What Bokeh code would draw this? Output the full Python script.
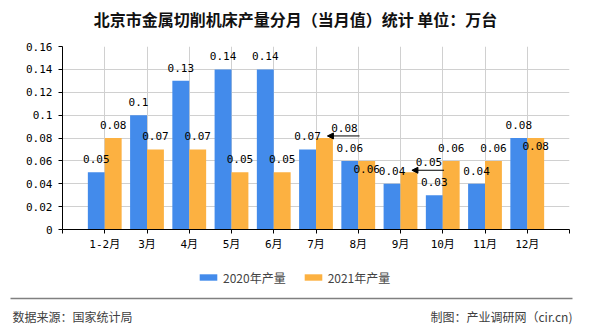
from bokeh.plotting import figure
from bokeh.layouts import column
from bokeh.models import (ColumnDataSource, FixedTicker, LabelSet, Label, Legend,
                          LegendItem, Arrow, NormalHead, NumeralTickFormatter)
from bokeh.transform import dodge
from bokeh.core.properties import value
from bokeh.embed import file_html
from bokeh.resources import INLINE

# ---- data ----
months = ["1-2月", "3月", "4月", "5月", "6月", "7月", "8月", "9月", "10月", "11月", "12月"]
output_2020 = [0.05, 0.1, 0.13, 0.14, 0.14, 0.07, 0.06, 0.04, 0.03, 0.04, 0.08]
output_2021 = [0.08, 0.07, 0.07, 0.05, 0.05, 0.08, 0.06, 0.05, 0.06, 0.06, 0.08]
y_ticks = [0, 0.02, 0.04, 0.06, 0.08, 0.1, 0.12, 0.14, 0.16]
series_names = ["2020年产量", "2021年产量"]
title_text = "北京市金属切削机床产量分月（当月值）统计 单位：万台"
source_text = "数据来源：国家统计局"
credit_text = "制图：产业调研网（cir.cn)"

# ---- styles ----
BLUE = "#438beb"
ORANGE = "#fcb141"
MONO = "DejaVu Sans Mono, Noto Sans CJK SC"
CJK = "Noto Sans CJK SC"
# label placement style for the 2021 series (how the original tool avoided overlaps)
mode_2021 = ["above", "above", "above", "above", "above", "callout", "inside",
             "callout", "above", "above", "inside"]

W = 590
TOP_H, MAIN_H, FOOT_H = 40, 220, 70

n = len(months)
idx = list(range(n))


def blank(h):
    f = figure(width=W, height=h, x_range=(0, W), y_range=(0, h),
               x_axis_type=None, y_axis_type=None, frame_align=False,
               min_border=0, output_backend="svg", toolbar_location=None, tools="")
    f.grid.visible = False
    f.outline_line_color = None
    f.background_fill_color = "white"
    f.border_fill_color = "white"
    return f


# ---- title strip ----
top = blank(TOP_H)
top.add_layout(Label(x=295, y=TOP_H - 18, text=title_text, text_align="center",
                     text_baseline="middle", text_font=CJK, text_font_size="16px",
                     text_font_style="bold", text_color="#111111"))

# ---- main chart ----
p = figure(width=W, height=MAIN_H, x_range=(-1, n), y_range=(y_ticks[0], y_ticks[-1]),
           min_border_left=62, min_border_right=21, min_border_top=6, min_border_bottom=31,
           frame_align=False, output_backend="svg", toolbar_location=None, tools="")
p.outline_line_color = None
p.background_fill_color = "white"
p.border_fill_color = "white"

src = ColumnDataSource(dict(
    x=idx,
    v20=output_2020,
    v21=output_2021,
    t20=[f"{v:g}" for v in output_2020],
))

p.vbar(x=dodge("x", -0.2), top="v20", width=0.4, source=src,
       fill_color=BLUE, line_color=None)
p.vbar(x=dodge("x", 0.2), top="v21", width=0.4, source=src,
       fill_color=ORANGE, line_color=None)

xt = FixedTicker(ticks=list(range(-1, n + 1)))
p.xaxis.ticker = xt
p.xaxis.major_label_overrides = {**{i: months[i] for i in idx}, -1: "", n: ""}
p.xgrid.ticker = xt
p.yaxis.ticker = FixedTicker(ticks=y_ticks)
p.yaxis.formatter = NumeralTickFormatter(format="0.[00]")
for ax in (p.xaxis, p.yaxis):
    ax.axis_line_color = "black"
    ax.major_tick_line_color = "black"
    ax.major_tick_in = 0
    ax.major_tick_out = 4
    ax.minor_tick_line_color = None
    ax.major_label_text_font = MONO
    ax.major_label_text_font_size = "11px"
    ax.major_label_text_color = "black"
p.xaxis.major_label_standoff = 4
p.yaxis.major_label_standoff = 6
p.xgrid.grid_line_color = "#d0d0d0"
p.ygrid.grid_line_color = "#d0d0d0"

lab_kw = dict(text_font=value("DejaVu Sans Mono"), text_font_size=value("11px"),
              text_color=value("black"), text_align="center", text_baseline="alphabetic")
p.add_layout(LabelSet(x=dodge("x", -0.2), y="v20", text="t20", y_offset=9,
                      source=src, **lab_kw))

xs, ys, ts, xo, yo = [], [], [], [], []
for i in idx:
    v = output_2021[i]
    m = mode_2021[i]
    xs.append(i + 0.2)
    ys.append(v)
    ts.append(f"{v:g}")
    if m == "above":
        xo.append(0); yo.append(9)
    elif m == "inside":
        xo.append(0); yo.append(-12)
    else:
        xo.append(20); yo.append(6)
        p.add_layout(Arrow(x_start=i + 0.2 + 0.83, y_start=v + 0.0018,
                           x_end=i + 0.2 + 0.07, y_end=v + 0.0018,
                           line_color="black", line_width=1,
                           end=NormalHead(size=6, fill_color="black", line_color="black")))
src21 = ColumnDataSource(dict(x=xs, y=ys, t=ts, xo=xo, yo=yo))
p.add_layout(LabelSet(x="x", y="y", text="t", x_offset="xo", y_offset="yo",
                      source=src21, **lab_kw))

# ---- footer strip: legend, rule, credits ----
foot = blank(FOOT_H)
# separator rule above the credits (an Arrow without heads draws a plain line)
foot.add_layout(Arrow(x_start=10, y_start=FOOT_H - 38, x_end=572, y_end=FOOT_H - 38,
                      start=None, end=None, line_color="#808080", line_width=1.5))
# zero-height proxies that only supply the legend swatches
proxy = ColumnDataSource(dict(x=[0], top=[0]))
g20 = foot.vbar(x="x", top="top", width=0, source=proxy, fill_color=BLUE, line_color=None)
g21 = foot.vbar(x="x", top="top", width=0, source=proxy, fill_color=ORANGE, line_color=None)
legend = Legend(items=[LegendItem(label=series_names[0], renderers=[g20]),
                       LegendItem(label=series_names[1], renderers=[g21])],
                orientation="horizontal", location=(197, FOOT_H - 27),
                glyph_width=22, glyph_height=8, label_standoff=4, spacing=16,
                padding=0, margin=0, border_line_color=None, background_fill_alpha=0,
                label_text_font=CJK, label_text_font_size="12px", label_height=20)
foot.add_layout(legend, "center")
foot.add_layout(Label(x=12, y=FOOT_H - 56, text=source_text, text_align="left",
                      text_baseline="middle", text_font=CJK, text_font_size="12px",
                      text_color="#404040"))
foot.add_layout(Label(x=572, y=FOOT_H - 56, text=credit_text, text_align="right",
                      text_baseline="middle", text_font=CJK, text_font_size="12px",
                      text_color="#404040"))

layout = column(top, p, foot, spacing=0)
open("out.html", "w").write(file_html(layout, INLINE))
